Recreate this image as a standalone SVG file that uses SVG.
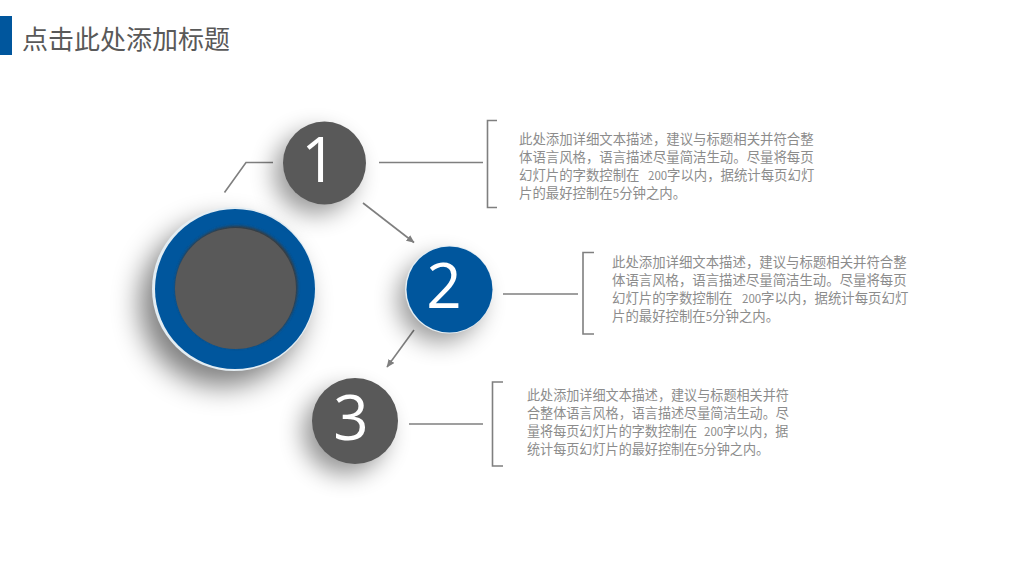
<svg xmlns="http://www.w3.org/2000/svg" width="1024" height="576" viewBox="0 0 1024 576">
<defs>
<style>
.cn{font-family:"Noto Sans CJK SC","Liberation Sans",sans-serif}
.num{font-family:"Open Sans","Liberation Sans",sans-serif;font-size:62px;fill:#fff;text-anchor:middle}
.body{font-size:13.4px;fill:#8c8c8c}
.body3{font-size:13.1px;fill:#8c8c8c}
.d{font-size:11.500px}
.ln{fill:none;stroke:#7f7f7f;stroke-width:1.6}
</style>
<filter id="sh" x="-80%" y="-80%" width="260%" height="260%"><feGaussianBlur stdDeviation="14"/></filter>
<filter id="shs" x="-80%" y="-80%" width="260%" height="260%"><feGaussianBlur stdDeviation="12"/></filter>
<filter id="ins" x="-20%" y="-20%" width="140%" height="140%"><feGaussianBlur stdDeviation="1.500"/></filter>
<marker id="ah" markerWidth="9" markerHeight="8" refX="7.5" refY="3.5" orient="auto" markerUnits="userSpaceOnUse"><path d="M0,0L8,3.500L0,7z" fill="#7f7f7f"/></marker>
</defs>
<rect width="1024" height="576" fill="#fff"/>
<g id="title">
<rect x="0" y="16" width="12" height="39" fill="#00569d"/>
<text x="22" y="49" class="cn" font-size="26" fill="#595959">点击此处添加标题</text>
</g>
<g id="connectors">
<path class="ln" d="M224.500 192.500L246 162.500H273"/>
<path class="ln" d="M379 162.500H483"/>
<path class="ln" d="M363 203L414 242.500" marker-end="url(#ah)"/>
<path class="ln" d="M503 294H578"/>
<path class="ln" d="M414 330L387 367" marker-end="url(#ah)"/>
<path class="ln" d="M409 424H483"/>
</g>
<g id="hub">
<circle cx="222" cy="304" r="82" fill="#000" opacity=".5" filter="url(#sh)"/>
<circle cx="234" cy="289" r="82" fill="#e3edf3"/>
<circle cx="235" cy="289" r="80" fill="#00569d"/>
<circle cx="236.500" cy="287" r="61" fill="#3a3a3a" filter="url(#ins)"/>
<circle cx="235.500" cy="288.500" r="60.500" fill="#595959"/>
</g>
<g id="node1">
<circle cx="315" cy="173" r="41" fill="#000" opacity=".4" filter="url(#shs)"/>
<circle cx="324.500" cy="163" r="41.500" fill="#595959"/>
<text x="319" y="182" class="num">1</text>
</g>
<g id="node2">
<circle cx="440" cy="300" r="42" fill="#000" opacity=".4" filter="url(#shs)"/>
<circle cx="449" cy="289.500" r="44" fill="#e3edf3"/>
<circle cx="449.500" cy="289.500" r="43" fill="#00569d"/>
<text x="444" y="308" class="num">2</text>
</g>
<g id="node3">
<circle cx="345" cy="432" r="42" fill="#000" opacity=".42" filter="url(#shs)"/>
<circle cx="355" cy="421" r="43" fill="#595959"/>
<text x="351" y="440" class="num">3</text>
</g>
<g id="text1">
<path class="ln" d="M497 120.500H487.500V207.500H497"/>
<text class="cn body"><tspan x="519" y="143.500">此处添加详细文本描述，建议与标题相关并符合整</tspan><tspan x="519" y="161.500">体语言风格，语言描述尽量简洁生动。尽量将每页</tspan><tspan x="519" y="179.500">幻灯片的字数控制在</tspan><tspan class="d" x="648" y="179.500">200</tspan><tspan x="667" y="179.500">字以内，据统计每页幻灯</tspan><tspan x="519" y="198">片的最好控制在</tspan><tspan class="d">5</tspan><tspan>分钟之内。</tspan></text>
</g>
<g id="text2">
<path class="ln" d="M594 252.500H583V334H594"/>
<text class="cn body"><tspan x="612" y="267">此处添加详细文本描述，建议与标题相关并符合整</tspan><tspan x="612" y="285">体语言风格，语言描述尽量简洁生动。尽量将每页</tspan><tspan x="612" y="303">幻灯片的字数控制在</tspan><tspan class="d" x="742" y="303">200</tspan><tspan x="761" y="303">字以内，据统计每页幻灯</tspan><tspan x="612" y="321">片的最好控制在</tspan><tspan class="d">5</tspan><tspan>分钟之内。</tspan></text>
</g>
<g id="text3">
<path class="ln" d="M503 382H492.500V466H503"/>
<text class="cn body3"><tspan x="527" y="400">此处添加详细文本描述，建议与标题相关并符</tspan><tspan x="527" y="418">合整体语言风格，语言描述尽量简洁生动。尽</tspan><tspan x="527" y="436">量将每页幻灯片的字数控制在</tspan><tspan class="d" x="704" y="436">200</tspan><tspan x="723" y="436">字以内，据</tspan><tspan x="527" y="454">统计每页幻灯片的最好控制在</tspan><tspan class="d">5</tspan><tspan>分钟之内。</tspan></text>
</g>
</svg>
